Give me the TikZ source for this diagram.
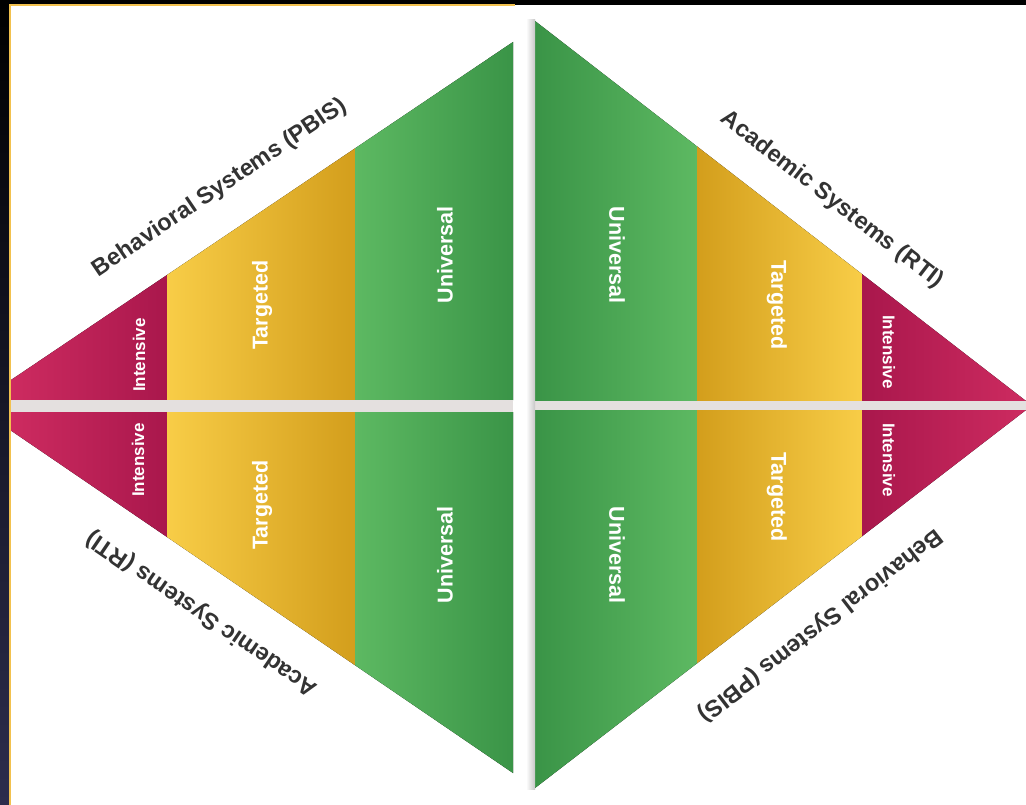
\documentclass[tikz,border=0pt]{standalone}
\usepackage{fontspec}
\setmainfont{Liberation Sans}
\begin{document}
\begin{tikzpicture}[x=1pt,y=-1pt,
  title/.style={font=\fontsize{23.5}{25}\selectfont\bfseries, text=titlegray, inner sep=0pt},
  band/.style={font=\fontsize{21.5}{23}\selectfont\bfseries, text=white, inner sep=0pt},
  bandsmall/.style={font=\fontsize{17}{19}\selectfont\bfseries, text=white, inner sep=0pt}]
\definecolor{titlegray}{HTML}{333333}
\definecolor{gL}{HTML}{5DB962}
\definecolor{gD}{HTML}{3A9447}
\definecolor{yL}{HTML}{F8CD47}
\definecolor{yD}{HTML}{D39E1C}
\definecolor{rL}{HTML}{CD2B60}
\definecolor{rD}{HTML}{A9174C}
\definecolor{frameY}{HTML}{F2C14E}
\definecolor{frameN}{HTML}{2D2D4D}
\definecolor{gapgray}{HTML}{E4E0DF}
\useasboundingbox (0,0) rectangle (1026,805);
\fill[white] (0,0) rectangle (1026,805);
% top-left triangle (PBIS)
\fill[left color=rL, right color=rD] (11,380) -- (167,275) -- (167,400) -- (11,400) -- cycle;
\fill[left color=yL, right color=yD] (167,275) -- (355,148.4) -- (355,400) -- (167,400) -- cycle;
\fill[left color=gL, right color=gD] (355,148.4) -- (513,42) -- (513,400) -- (355,400) -- cycle;
% bottom-left triangle (RTI)
\fill[left color=rL, right color=rD] (11,412) -- (167,412) -- (167,537) -- (11,430.6) -- cycle;
\fill[left color=yL, right color=yD] (167,412) -- (355,412) -- (355,665.2) -- (167,537) -- cycle;
\fill[left color=gL, right color=gD] (355,412) -- (513,412) -- (513,773) -- (355,665.2) -- cycle;
% top-right triangle (RTI)
\fill[left color=gD, right color=gL] (535,21) -- (697,146.4) -- (697,401) -- (535,401) -- cycle;
\fill[left color=yD, right color=yL] (697,146.4) -- (862,274.1) -- (862,401) -- (697,401) -- cycle;
\fill[left color=rD, right color=rL] (862,274.1) -- (1026,401) -- (862,401) -- cycle;
% bottom-right triangle (PBIS)
\fill[left color=gD, right color=gL] (535,410) -- (697,410) -- (697,663.3) -- (535,788) -- cycle;
\fill[left color=yD, right color=yL] (697,410) -- (862,410) -- (862,536.3) -- (697,663.3) -- cycle;
\fill[left color=rD, right color=rL] (862,410) -- (1026,410) -- (862,536.3) -- cycle;
% separators
\fill[gapgray] (11,400) rectangle (513,412);
\fill[gapgray] (535,401) rectangle (1026,410);
\fill[left color=white, right color=black!22] (526,20) rectangle (535,789);
% frame
\fill[black] (0,0) rectangle (1026,5);
\fill[top color=black, bottom color=frameN] (0,0) rectangle (9,805);
\fill[frameY] (9,4) rectangle (11,805);
\fill[frameY] (9,4) rectangle (515,6.5);
% titles
\node[title, rotate=34] (tl) at (220,188) {Behavioral Systems (PBIS)};
\node[title, rotate=-37.7] (tr) at (832,200) {Academic Systems (RTI)};
\node[title, rotate=145.7] (bl) at (202,613) {Academic Systems (RTI)};
\node[title, rotate=-142.4] (br) at (820,625) {Behavioral Systems (PBIS)};
% band labels
\node[bandsmall, rotate=90] (tli) at (139,355) {Intensive};
\node[band, rotate=90] (tlt) at (262,305) {Targeted};
\node[band, rotate=90] (tlu) at (445,255) {Universal};
\node[bandsmall, rotate=90] (bli) at (138,460) {Intensive};
\node[band, rotate=90] (blt) at (262,505) {Targeted};
\node[band, rotate=90] (blu) at (445,555) {Universal};
\node[band, rotate=-90] (tru) at (617,255) {Universal};
\node[band, rotate=-90] (trt) at (777,305) {Targeted};
\node[bandsmall, rotate=-90] (tri) at (889,352) {Intensive};
\node[band, rotate=-90] (bru) at (617,555) {Universal};
\node[band, rotate=-90] (brt) at (777,497) {Targeted};
\node[bandsmall, rotate=-90] (bri) at (889,460) {Intensive};
\end{tikzpicture}
\end{document}
